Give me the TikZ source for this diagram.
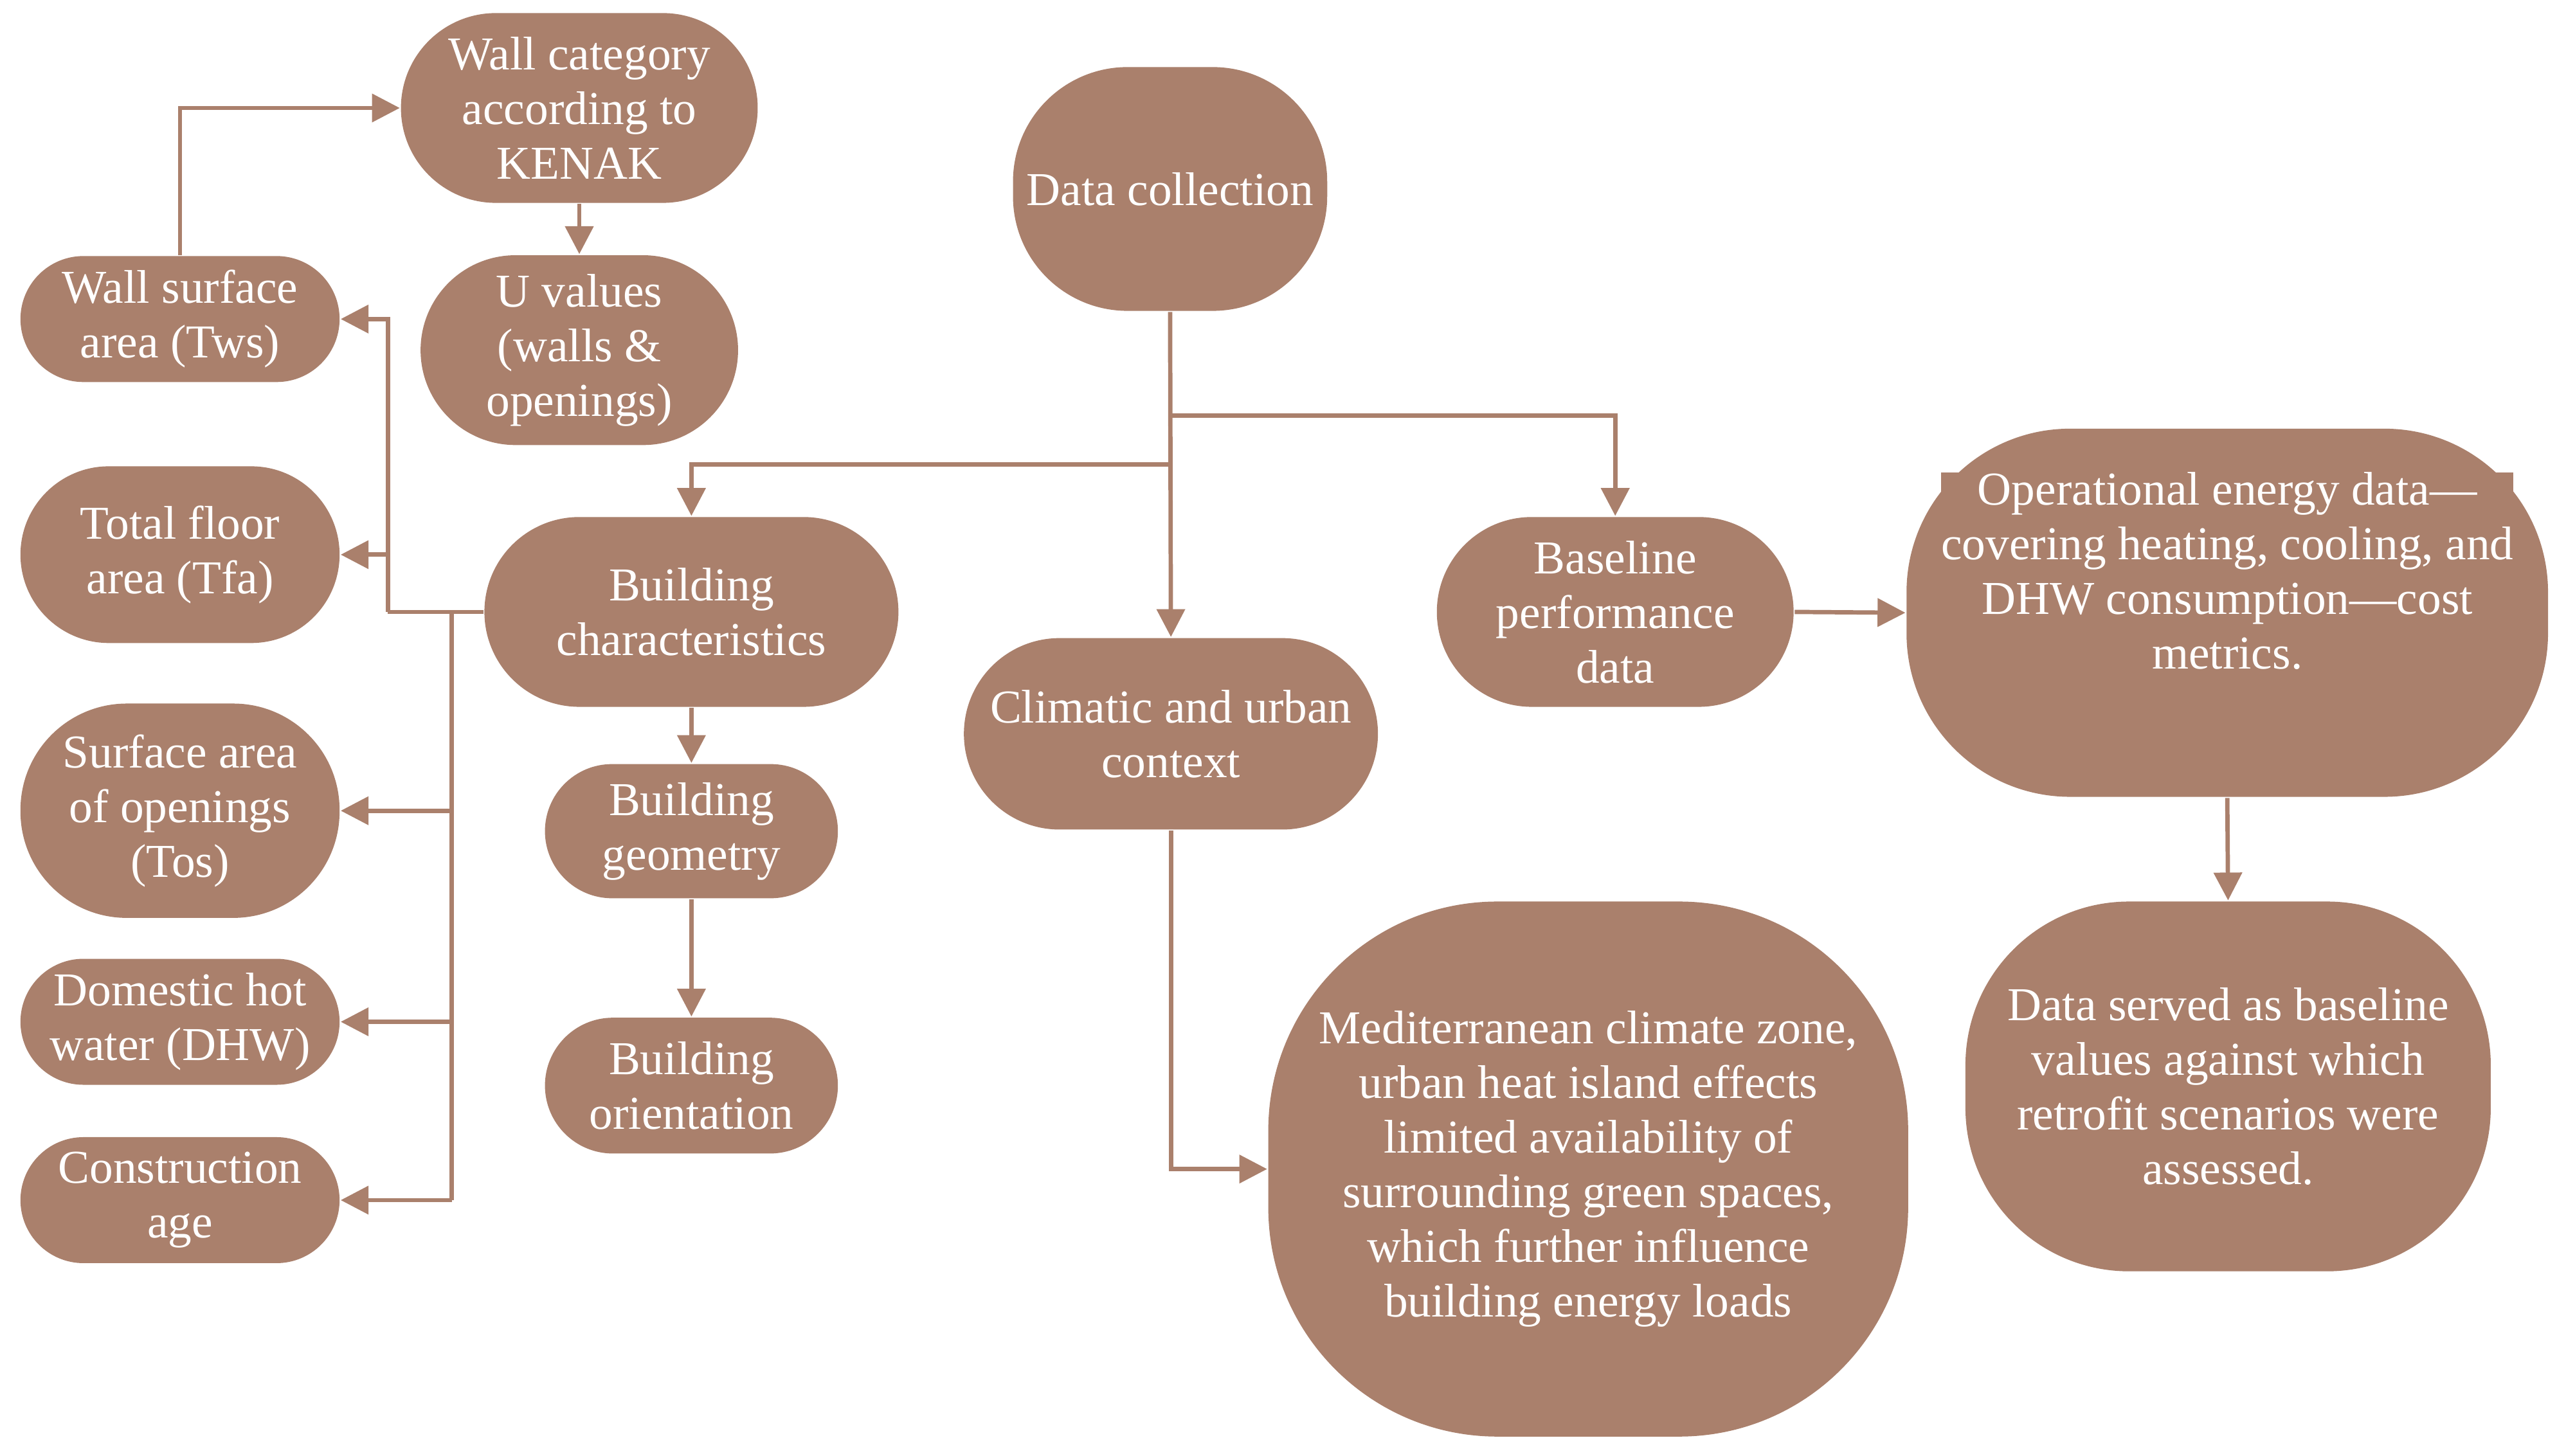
\documentclass[tikz,border=0pt]{standalone}
\usepackage{fontspec}
\setmainfont{Liberation Serif}
\usetikzlibrary{arrows.meta}
\definecolor{br}{RGB}{170,128,108}
\begin{document}
\begin{tikzpicture}[
  box/.style={fill=br,draw=none,text=white,align=center,inner sep=0pt,font=\fontsize{8.2pt}{9.5pt}\selectfont},
  ln/.style={draw=br,line width=0.75pt},
  ar/.style={ln,-{Triangle[length=0.17cm,width=0.17cm]}}]
\useasboundingbox (0,0) rectangle (15.68,-8.895);
\fill[white] (0,0) rectangle (15.68,-8.895);
\node[box,minimum width=2.18cm,minimum height=1.16cm,rounded corners=0.58cm] (wc) at (3.54,-0.66) {Wall category\\according to\\KENAK};
\node[box,minimum width=1.94cm,minimum height=1.16cm,rounded corners=0.58cm] (uv) at (3.54,-2.14) {U values\\(walls \&\\openings)};
\node[box,minimum width=1.92cm,minimum height=1.49cm,rounded corners=0.7cm] (dc) at (7.15,-1.155) {Data collection};
\node[box,minimum width=1.95cm,minimum height=0.77cm,rounded corners=0.385cm] (ws) at (1.10,-1.95) {Wall surface\\area (Tws)};
\node[box,minimum width=1.95cm,minimum height=1.08cm,rounded corners=0.54cm] (tf) at (1.10,-3.39) {Total floor\\area (Tfa)};
\node[box,minimum width=1.95cm,minimum height=1.31cm,rounded corners=0.65cm] (so) at (1.10,-4.955) {Surface area\\of openings\\(Tos)};
\node[box,minimum width=1.95cm,minimum height=0.77cm,rounded corners=0.385cm] (dhw) at (1.10,-6.245) {Domestic hot\\water (DHW)};
\node[box,minimum width=1.95cm,minimum height=0.77cm,rounded corners=0.385cm] (ca) at (1.10,-7.335) {Construction\\age};
\node[box,minimum width=2.53cm,minimum height=1.16cm,rounded corners=0.58cm] (bc) at (4.225,-3.74) {Building\\characteristics};
\node[box,minimum width=1.79cm,minimum height=0.82cm,rounded corners=0.41cm] (bg) at (4.225,-5.08) {Building\\geometry};
\node[box,minimum width=1.79cm,minimum height=0.83cm,rounded corners=0.415cm] (bo) at (4.225,-6.635) {Building\\orientation};
\node[box,minimum width=2.53cm,minimum height=1.17cm,rounded corners=0.585cm] (cu) at (7.155,-4.485) {Climatic and urban\\context};
\node[box,minimum width=2.18cm,minimum height=1.16cm,rounded corners=0.58cm] (bp) at (9.87,-3.74) {Baseline\\performance\\data};
\node[box,minimum width=3.92cm,minimum height=2.25cm,rounded corners=1.0cm] (oe) at (13.61,-3.745) {};
\node[box,anchor=north] (oet) at (13.61,-2.88) {Operational energy data—\\covering heating, cooling, and\\DHW consumption—cost\\metrics.};
\node[box,minimum width=3.21cm,minimum height=2.26cm,rounded corners=1.0cm] (ds) at (13.615,-6.64) {Data served as baseline\\values against which\\retrofit scenarios were\\assessed.};
\node[box,minimum width=3.91cm,minimum height=3.27cm,rounded corners=1.4cm] (md) at (9.705,-7.145) {Mediterranean climate zone,\\urban heat island effects\\limited availability of\\surrounding green spaces,\\which further influence\\building energy loads};
% connectors
\draw[ar] (dc.south) -- (cu.north);
\draw[ar] (7.15,-2.84) -| (bc.north);
\draw[ar] (7.15,-2.54) -| (bp.north);
\draw[ar] (ws.north) |- (wc.west);
\draw[ar] (wc.south) -- (uv.north);
\coordinate (j1) at (2.37,-3.74);
\coordinate (j2) at (2.76,-3.74);
\draw[ln] (bc.west) -- (j1);
\draw[ar] (j1) |- (ws.east);
\draw[ar] (2.37,-3.39) -- (tf.east);
\draw[ln] (j2) -- (2.76,-7.335);
\draw[ar] (2.76,-4.955) -- (so.east);
\draw[ar] (2.76,-6.245) -- (dhw.east);
\draw[ar] (2.76,-7.335) -- (ca.east);
\draw[ar] (bc.south) -- (bg.north);
\draw[ar] (bg.south) -- (bo.north);
\draw[ar] (bp.east) -- (oe.west);
\draw[ar] (oe.south) -- (ds.north);
\draw[ar] (cu.south) |- (md.west);
\end{tikzpicture}
\end{document}
